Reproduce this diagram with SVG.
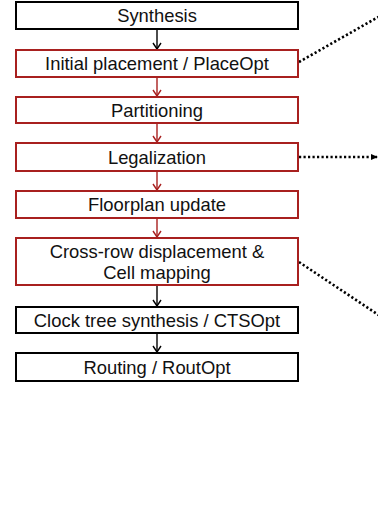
<svg xmlns="http://www.w3.org/2000/svg" width="378" height="529" viewBox="0 0 378 529">
  <defs>
    <!-- open chevron heads, drawn along +x so orient="auto" points them down the line -->
    <marker id="vBlack" markerWidth="8" markerHeight="10" refX="7" refY="5" orient="auto" markerUnits="userSpaceOnUse" viewBox="0 0 8 10">
      <path d="M1,1 L7,5 L1,9" fill="none" stroke="#000" stroke-width="1.4"/>
    </marker>
    <marker id="vRed" markerWidth="8" markerHeight="10" refX="7" refY="5" orient="auto" markerUnits="userSpaceOnUse" viewBox="0 0 8 10">
      <path d="M1,1 L7,5 L1,9" fill="none" stroke="#a8201f" stroke-width="1.4"/>
    </marker>
    <marker id="dotHead" markerWidth="8" markerHeight="8" refX="6" refY="4" orient="auto" markerUnits="userSpaceOnUse" viewBox="0 0 8 8">
      <path d="M0,1 L7,4 L0,7 Z" fill="#000"/>
    </marker>
  </defs>
  <style>
    .box { fill: #fff; stroke-width: 2; }
    .blk { stroke: #000; }
    .red { stroke: #a8201f; }
    .lbl { font-family: "Liberation Sans", Arial, sans-serif; font-size: 18.4px; fill: #111; text-anchor: middle; }
    .flowB { stroke: #000; stroke-width: 1.4; fill: none; marker-end: url(#vBlack); }
    .flowR { stroke: #a8201f; stroke-width: 1.4; fill: none; marker-end: url(#vRed); }
    .dot { stroke: #000; stroke-width: 2.6; fill: none; stroke-dasharray: 2.2 2.3; }
  </style>

  <rect width="378" height="529" fill="#fff"/>

  <g id="connectors">
    <line class="flowB" x1="157" y1="29" x2="157" y2="49"/>
    <line class="flowR" x1="157" y1="77" x2="157" y2="96"/>
    <line class="flowR" x1="157" y1="123" x2="157" y2="142"/>
    <line class="flowR" x1="157" y1="171" x2="157" y2="190"/>
    <line class="flowR" x1="157" y1="218" x2="157" y2="237"/>
    <line class="flowB" x1="157" y1="285" x2="157" y2="306"/>
    <line class="flowB" x1="157" y1="333" x2="157" y2="352"/>
    <line class="dot" x1="299" y1="62" x2="380" y2="16"/>
    <line class="dot" x1="299" y1="157" x2="377" y2="157" marker-end="url(#dotHead)"/>
    <line class="dot" x1="299" y1="262" x2="380" y2="316"/>
  </g>

  <g id="synthesis">
    <rect class="box blk" x="16" y="2" width="282" height="27"/>
    <text class="lbl" x="157" y="22">Synthesis</text>
  </g>
  <g id="initial-placement">
    <rect class="box red" x="16" y="50" width="282" height="27"/>
    <text class="lbl" x="157" y="70">Initial placement / PlaceOpt</text>
  </g>
  <g id="partitioning">
    <rect class="box red" x="16" y="97" width="282" height="26"/>
    <text class="lbl" x="157" y="116.5">Partitioning</text>
  </g>
  <g id="legalization">
    <rect class="box red" x="16" y="143" width="282" height="28"/>
    <text class="lbl" x="157" y="163.5">Legalization</text>
  </g>
  <g id="floorplan-update">
    <rect class="box red" x="16" y="191" width="282" height="27"/>
    <text class="lbl" x="157" y="211">Floorplan update</text>
  </g>
  <g id="cross-row">
    <rect class="box red" x="16" y="238" width="282" height="47"/>
    <text class="lbl" x="157" y="257.5">Cross-row displacement &amp;</text>
    <text class="lbl" x="157" y="279">Cell mapping</text>
  </g>
  <g id="clock-tree">
    <rect class="box blk" x="16" y="307" width="282" height="26"/>
    <text class="lbl" x="157" y="326.5">Clock tree synthesis / CTSOpt</text>
  </g>
  <g id="routing">
    <rect class="box blk" x="16" y="353" width="282" height="28"/>
    <text class="lbl" x="157" y="373.5">Routing / RoutOpt</text>
  </g>
</svg>
